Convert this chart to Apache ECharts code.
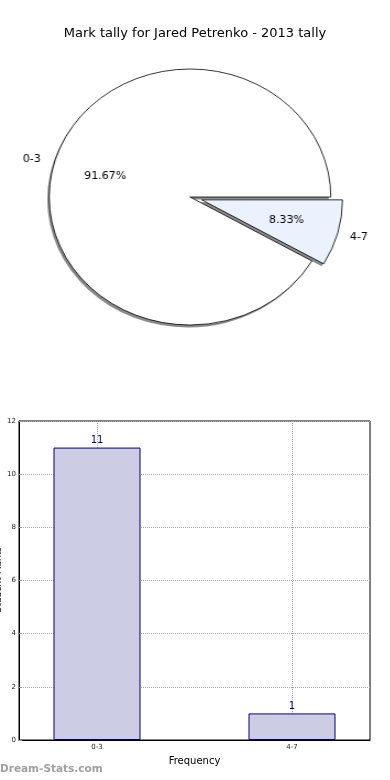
<!DOCTYPE html>
<html><head><meta charset="utf-8">
<script src="https://cdn.jsdelivr.net/npm/echarts@6/dist/echarts.min.js"></script>
<style>
html,body{margin:0;padding:0;background:#fff}
#main{position:absolute;left:0;top:0;width:390px;height:780px}
#pie{position:absolute;left:0;top:0;width:354.55px;height:400px;transform:scaleX(1.1);transform-origin:0 0;pointer-events:none}
</style></head>
<body>
<div id="main"></div>
<div id="pie"></div>
<script>
const titleText = 'Mark tally for Jared Petrenko - 2013 tally';
const pieCategories = ['0-3', '4-7'];
const pieValues = [11, 1];
const barCategories = ['0-3', '4-7'];
const barValues = [11, 1];
const yAxisName = 'Student Marks';
const xAxisName = 'Frequency';
const watermark = 'Dream-Stats.com';

const FONT = 'DejaVu Sans';
const pieFills = ['#ffffff', '#ebf1fd'];
const cx = 190 / 1.1, cy = 197, R = 128;

function pieBase(radius, center) {
  return {
    type: 'pie', silent: true, animation: false,
    center: center || [cx, cy], radius: radius,
    startAngle: 0, clockwise: false,
    selectedMode: 'single', selectedOffset: 11,
    emphasis: { disabled: true },
    labelLine: { show: false },
    avoidLabelOverlap: false
  };
}

const pieChart = echarts.init(document.getElementById('pie'), null, { renderer: 'canvas' });
pieChart.setOption({
  animation: false,
  textStyle: { fontFamily: FONT },
  series: [
    Object.assign(pieBase(R, [cx - 1.8, cy + 2.5]), {
      z: 1,
      label: { show: false },
      itemStyle: { color: '#8a8a8a', borderWidth: 0 },
      data: pieCategories.map((c, i) => ({
        name: c, value: pieValues[i], selected: i === 1,
        select: { itemStyle: { color: '#8a8a8a', borderWidth: 0 } }
      }))
    }),
    Object.assign(pieBase(R), {
      z: 2,
      label: { show: false },
      itemStyle: { borderColor: '#000', borderWidth: 0.8 },
      data: pieCategories.map((c, i) => ({
        name: c, value: pieValues[i], selected: i === 1,
        itemStyle: { color: pieFills[i] },
        select: { itemStyle: { color: pieFills[i], borderColor: '#000', borderWidth: 0.8 } }
      }))
    }),
    Object.assign(pieBase(R * 1.2), {
      z: 3,
      label: { show: true, position: 'inside', formatter: '{d}%', fontSize: 10, color: '#000', textBorderWidth: 0, fontFamily: FONT },
      itemStyle: { color: 'rgba(0,0,0,0)', borderWidth: 0 },
      data: pieCategories.map((c, i) => ({
        name: c, value: pieValues[i], selected: i === 1,
        select: { itemStyle: { color: 'rgba(0,0,0,0)', borderWidth: 0 } }
      }))
    }),
    Object.assign(pieBase(R * 2.2), {
      z: 3,
      label: { show: true, position: 'inside', formatter: '{b}', fontSize: 10, color: '#000', textBorderWidth: 0, fontFamily: FONT },
      itemStyle: { color: 'rgba(0,0,0,0)', borderWidth: 0 },
      data: pieCategories.map((c, i) => ({
        name: c, value: pieValues[i], selected: i === 1,
        label: { padding: i === 0 ? [0, 10, 0, 0] : [0, 0, 0, 8] },
        select: { itemStyle: { color: 'rgba(0,0,0,0)', borderWidth: 0 } }
      }))
    })
  ]
});

const chart = echarts.init(document.getElementById('main'), null, { renderer: 'canvas' });
chart.setOption({
  animation: false,
  textStyle: { fontFamily: FONT },
  title: {
    text: titleText, left: 'center', top: 22,
    textStyle: { fontSize: 13, fontWeight: 'normal', color: '#000', fontFamily: FONT }
  },
  grid: { left: 19, right: 20, top: 421, bottom: 40, show: true, borderColor: '#000', borderWidth: 1, containLabel: false, outerBoundsMode: 'none' },
  xAxis: {
    type: 'value', min: -0.4, max: 1.4,
    name: xAxisName, nameLocation: 'middle', nameGap: 16,
    nameTextStyle: { fontSize: 10, color: '#000', fontFamily: FONT },
    axisLine: { show: true, onZero: false, lineStyle: { color: '#000', width: 1 } },
    axisTick: { show: true, inside: true, length: 3, customValues: [0, 1], lineStyle: { color: '#999' } },
    axisLabel: { customValues: [0, 1], formatter: v => barCategories[Math.round(v)], fontSize: 7, color: '#222', margin: 4 },
    splitLine: { show: true, lineStyle: { type: 'dotted', color: '#aaa', width: 1 } }
  },
  yAxis: {
    type: 'value', min: 0, max: 12, interval: 2,
    axisLine: { show: true, onZero: false, lineStyle: { color: '#000', width: 1 } },
    axisTick: { show: true, inside: true, length: 3, lineStyle: { color: '#999' } },
    axisLabel: { fontSize: 7, color: '#222', margin: 3 },
    splitLine: { show: true, lineStyle: { type: 'dotted', color: '#aaa', width: 1 } }
  },
  graphic: [{
    type: 'text', left: 0, top: 764,
    style: { text: watermark, fill: '#a0a0a0', fontSize: 10.5, fontWeight: 'bold', fontFamily: FONT }
  }, {
    type: 'text', x: -1, y: 580, rotation: Math.PI / 2, z: 10,
    style: { text: yAxisName, fill: '#000', fontSize: 9, fontFamily: FONT, align: 'center', verticalAlign: 'middle' }
  }],
  series: [{
    type: 'bar', barWidth: 87, silent: true,
    data: barValues.map((v, i) => [i, v]),
    itemStyle: { color: '#ccccE5', borderColor: '#000080', borderWidth: 1 },
    label: { show: true, position: 'top', distance: 2, color: '#000080', fontSize: 10, fontFamily: FONT }
  }]
});
</script>
</body></html>
